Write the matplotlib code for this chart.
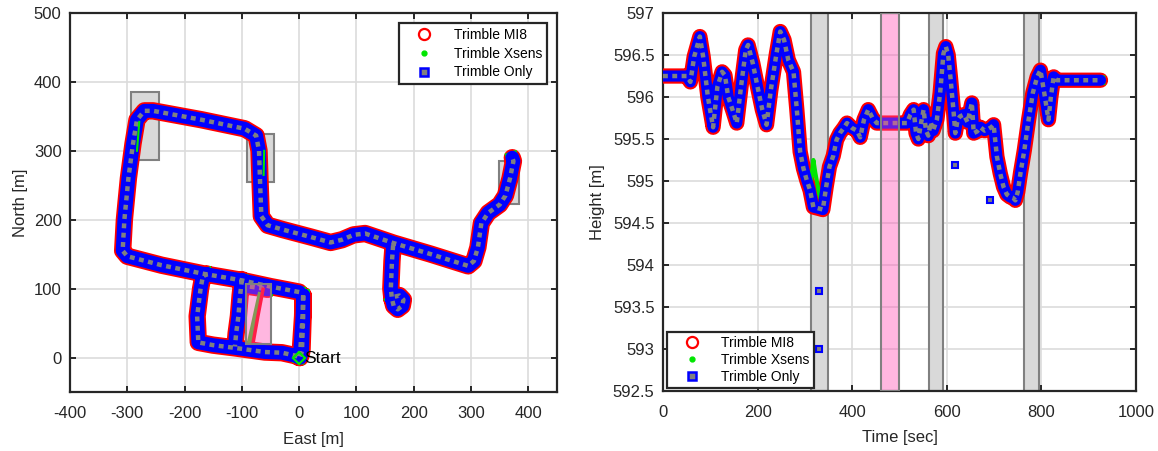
import numpy as np
import matplotlib.pyplot as plt
from matplotlib.lines import Line2D
from matplotlib.patches import Rectangle
from matplotlib.ticker import FuncFormatter

plt.rcParams['font.family'] = ['Liberation Sans', 'DejaVu Sans']
plt.rcParams['axes.unicode_minus'] = False

nan = np.nan

# --- trajectory (East / North, m); NaN breaks the polyline into pieces ---
east = [7, 6, 2, 0, nan,
        0, -50, -100, -170, -240, -300, -308, -305, -298, -290, -283, -270, -255,
        -170, -95, -75, -70, -68, -66, -55, -30, 20, 55, 75, 95, 115, 165, 230,
        295, 305, 312, 318, 330, 350, 360, 368, 374, 372, nan,
        7, 7, 5, 2, -8, -30, -60, -112, -150, -176, -178, -172, -168, -160, nan,
        -100, -103, -106, -110, -112, nan,
        -86, -70, -55, nan,
        164, 162, 160, 162, 165, 172, 180, 182, 175, 165, 162]
north = [90, 60, 10, 0, nan,
         95, 103, 112, 122, 134, 147, 155, 200, 260, 310, 345, 358, 358,
         345, 332, 322, 300, 250, 205, 192, 186, 175, 167, 171, 178, 180, 166, 150,
         133, 140, 160, 195, 210, 222, 235, 260, 285, 290, nan,
         90, 60, 10, 0, 3, 7, 8, 14, 18, 22, 60, 100, 118, 121, nan,
         113, 90, 60, 35, 16, nan,
         103, 101, 99, nan,
         163, 140, 100, 85, 75, 70, 75, 84, 90, 88, 85]

# segments inside the outage window where only the two INS solutions exist
mi8_gap_e = [-80, -72, -63]
mi8_gap_n = [23, 60, 99]
xsens_gap_e = [-86, -77, -68]
xsens_gap_n = [23, 57, 91]
xsens_box_e = [[-283, -279], [-62, -61]]
xsens_box_n = [[300, 342], [265, 300]]

# gray = partial outage, pink = full outage (x, y, w, h)
boxes_en = [(-293, 287, 48, 98), (-91, 255, 47, 70), (349, 223, 35, 62)]
pink_en = (-93, 19, 44, 88)

# --- height profile ---
t = [0, 50, 58, 66, 78, 85, 95, 106, 115, 125, 131, 138, 147, 156, 165, 175,
     180, 190, 200, 210, 219, 228, 240, 248, 256, 265, 276, 283, 290, 297,
     304, 311, 318, 325, 332, 338, 345, 352, 360, 367, 374, 382, 389, 400,
     410, 417, 425, 434, 443, 452, 470, 490, 510, 516, 523, 530, 535, 540,
     546, 551, 556, 561, 566, 571, 579, 586, 593, 598, 603, 608, 614, 618,
     623, 628, 636, 644, 653, 657, 664, 671, 680, 688, 694, 699, 706, 713,
     720, 727, 734, 740, 745, 750, 756, 764, 773, 782, 791, 798, 806, 815,
     820, 826, 833, 840, 880, 925]
height = [596.25, 596.25, 596.18, 596.48, 596.72, 596.48, 596.0, 595.64, 596.12,
          596.3, 596.26, 596.0, 595.85, 595.69, 596.12, 596.56, 596.62, 596.4,
          596.12, 595.85, 595.67, 596.08, 596.52, 596.78, 596.68, 596.44, 596.3,
          595.85, 595.35, 595.15, 595.01, 594.89, 594.69, 594.68, 594.67, 594.66,
          594.93, 595.17, 595.3, 595.49, 595.57, 595.63, 595.69, 595.63, 595.6,
          595.52, 595.73, 595.85, 595.75, 595.69, 595.69, 595.69, 595.69, 595.69,
          595.79, 595.85, 595.57, 595.5, 595.7, 595.85, 595.6, 595.54, 595.7,
          595.6, 595.73, 596.05, 596.52, 596.6, 596.5, 596.22, 595.85, 595.57,
          595.73, 595.77, 595.79, 595.7, 595.93, 595.57, 595.59, 595.64, 595.6,
          595.62, 595.64, 595.67, 595.29, 595.09, 594.93, 594.84, 594.81, 594.8,
          594.77, 594.87, 595.1, 595.37, 595.73, 596.05, 596.24, 596.32, 596.05,
          595.73, 596.0, 596.24, 596.2, 596.2, 596.2, 596.2]
xsens_t = [312, 318, 322, 330, 338]
xsens_h = [594.95, 595.25, 595.1, 594.85, 594.7]
outlier_t = [329, 330, 617, 692]
outlier_h = [593.69, 593.0, 595.19, 594.77]

boxes_t = [(312, 37), (563, 30), (764, 30)]
pink_t = (461, 39)

RED = (1, 0, 0)
GREEN = (0, 0.9, 0)
BLUE = (0, 0, 1)
SQ_FACE = (0.5, 0.5, 0.5)
BOX_FACE = (0.85, 0.85, 0.85)
BOX_EDGE = (0.5, 0.5, 0.5)
PINK = (1, 0.3, 0.7)
INK = '#262626'


def style_axes(ax):
    ax.grid(True, color=(0.86, 0.86, 0.86), lw=1.2, zorder=0)
    ax.set_axisbelow(True)
    for s in ax.spines.values():
        s.set_linewidth(1.6)
        s.set_color(INK)
    ax.tick_params(direction='in', length=4, width=1.4, top=True, right=True,
                   labelsize=12, colors=INK)
    ax.tick_params(axis='x', pad=10)
    ax.tick_params(axis='y', pad=6)


def draw_track(ax, x, y, red_w, blue_w):
    ax.plot(x, y, color=RED, lw=red_w, solid_capstyle='round',
            solid_joinstyle='round', zorder=3)
    ax.plot(x, y, color=GREEN, lw=blue_w - 1, zorder=4)
    ax.plot(x, y, color=BLUE, lw=blue_w, solid_capstyle='round',
            solid_joinstyle='round', zorder=5)
    ax.plot(x, y, color=SQ_FACE, lw=3.2, linestyle=(0, (1.1, 1.0)),
            dash_capstyle='butt', zorder=6)


legend_handles = [
    Line2D([], [], ls='none', marker='o', ms=8, mfc='none', mec=RED, mew=1.6),
    Line2D([], [], ls='none', marker='o', ms=3.5, mfc=GREEN, mec=GREEN),
    Line2D([], [], ls='none', marker='s', ms=6, mfc=SQ_FACE, mec=BLUE, mew=1.8),
]
legend_labels = ['Trimble MI8', 'Trimble Xsens', 'Trimble Only']

fig = plt.figure(figsize=(11.58, 4.51), dpi=100)
ax1 = fig.add_axes([0.0604, 0.1308, 0.4206, 0.8404])
ax2 = fig.add_axes([0.5725, 0.1330, 0.4085, 0.8381])

# --- left: horizontal track ---
style_axes(ax1)
for (x0, y0, w, h) in boxes_en:
    ax1.add_patch(Rectangle((x0, y0), w, h, fc=BOX_FACE, ec=BOX_EDGE, lw=1.5, zorder=2))
draw_track(ax1, east, north, 12.5, 10)
for xe, xn in zip(xsens_box_e, xsens_box_n):
    ax1.plot(xe, xn, color=GREEN, lw=1.5, zorder=7)
ax1.plot(xsens_gap_e, xsens_gap_n, color=(0.2, 0.8, 0.1), lw=4, zorder=7)
ax1.plot(mi8_gap_e, mi8_gap_n, color=RED, lw=2.5, zorder=7)
ax1.add_patch(Rectangle(pink_en[:2], pink_en[2], pink_en[3], fc=PINK, alpha=0.4,
                        ec='none', zorder=8))
ax1.add_patch(Rectangle(pink_en[:2], pink_en[2], pink_en[3], fc='none', ec=BOX_EDGE,
                        lw=1.5, zorder=8))
ax1.plot([0], [0], ls='none', marker='D', ms=6, mfc='none', mec=GREEN, mew=1.6, zorder=9)
ax1.text(9, -1, 'Start', fontsize=12.5, va='center', ha='left', zorder=9)

ax1.set_xlim(-400, 450)
ax1.set_ylim(-50, 500)
ax1.set_xticks(np.arange(-400, 401, 100))
ax1.set_yticks(np.arange(0, 501, 100))
ax1.set_xlabel('East [m]', fontsize=12, color=INK, labelpad=8)
ax1.set_ylabel('North [m]', fontsize=12, color=INK, labelpad=4)
leg1 = ax1.legend(legend_handles, legend_labels, loc='upper right',
                  bbox_to_anchor=(0.979, 0.974), borderaxespad=0, fontsize=10,
                  handlelength=3.0, handletextpad=0.6, labelspacing=0.35,
                  borderpad=0.35, fancybox=False, framealpha=1, edgecolor=INK)
leg1.get_frame().set_linewidth(1.6)
leg1.set_zorder(10)

# --- right: height vs time ---
style_axes(ax2)
for (t0, w) in boxes_t:
    ax2.add_patch(Rectangle((t0, 592.5), w, 4.55, fc=BOX_FACE, ec=BOX_EDGE, lw=1.5, zorder=2))
draw_track(ax2, t, height, 11, 8)
ax2.plot(xsens_t, xsens_h, color=GREEN, lw=3, zorder=4)
ax2.plot(outlier_t, outlier_h, ls='none', marker='s', ms=5, mfc=SQ_FACE, mec=BLUE,
         mew=1.5, zorder=6)
ax2.add_patch(Rectangle((pink_t[0], 592.5), pink_t[1], 4.5, fc=PINK, alpha=0.4,
                        ec='none', zorder=8))
ax2.add_patch(Rectangle((pink_t[0], 592.5), pink_t[1], 4.5, fc='none', ec=BOX_EDGE,
                        lw=1.5, zorder=8))

ax2.set_xlim(0, 1000)
ax2.set_ylim(592.5, 597)
ax2.set_xticks(np.arange(0, 1001, 200))
ax2.set_yticks(np.arange(592.5, 597.01, 0.5))
ax2.yaxis.set_major_formatter(FuncFormatter(lambda v, p: f'{v:g}'))
ax2.set_xlabel('Time [sec]', fontsize=12, color=INK, labelpad=7)
ax2.set_ylabel('Height [m]', fontsize=12, color=INK, labelpad=6)
leg2 = ax2.legend(legend_handles, legend_labels, loc='lower left',
                  bbox_to_anchor=(0.0085, 0.008), borderaxespad=0, fontsize=10,
                  handlelength=3.0, handletextpad=0.6, labelspacing=0.2,
                  borderpad=0.3, fancybox=False, framealpha=1, edgecolor=INK)
leg2.get_frame().set_linewidth(1.6)
leg2.set_zorder(10)

fig.savefig('out.png', dpi=100)
